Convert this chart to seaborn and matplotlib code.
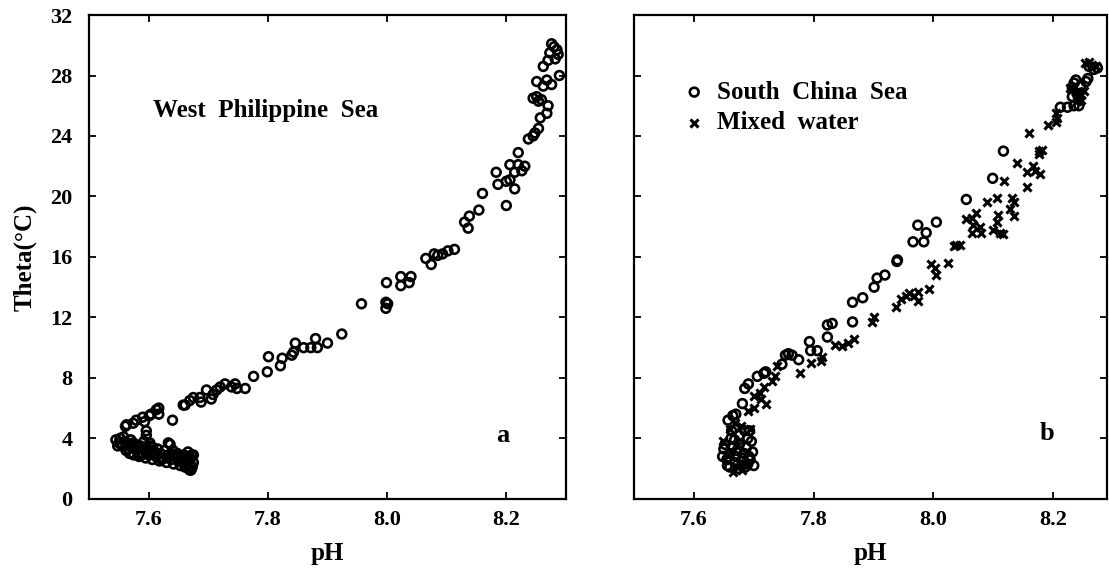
import pandas as pd
from matplotlib import pyplot as plt
import seaborn as sns
import numpy as np

# ---- panel a : West Philippine Sea ----
ph_wps = [8.276, 8.285, 8.273, 8.282, 8.287, 8.270, 8.280, 8.262, 8.289, 8.251,
          8.268, 8.276, 8.262, 8.245, 8.251, 8.259, 8.254, 8.270, 8.257, 8.268,
          8.254, 8.248, 8.245, 8.237, 8.220, 8.206, 8.220, 8.231, 8.226, 8.214,
          8.206, 8.200, 8.183, 8.186, 8.214, 8.200, 8.160, 8.154, 8.138, 8.130,
          8.136, 8.113, 8.102, 8.093, 8.085, 8.079, 8.065, 8.074, 8.023, 8.040,
          8.037, 8.023, 7.999, 7.998, 8.001, 7.998, 7.957, 7.924, 7.900, 7.880,
          7.883, 7.860, 7.872, 7.846, 7.840, 7.843, 7.824, 7.821, 7.801, 7.799,
          7.776, 7.762, 7.745, 7.748, 7.739, 7.728, 7.720, 7.714, 7.708, 7.705,
          7.697, 7.688, 7.686, 7.675, 7.669, 7.661, 7.658, 7.640, 7.617, 7.617,
          7.613, 7.604, 7.601, 7.590, 7.593, 7.579, 7.574, 7.563, 7.561, 7.596,
          7.596, 7.602, 7.633, 7.641, 7.666, 7.675, 7.675, 7.669,
          7.545, 7.550, 7.552, 7.556, 7.560, 7.562, 7.565, 7.568, 7.570, 7.572,
          7.575, 7.578, 7.580, 7.584, 7.586, 7.590, 7.592, 7.595, 7.598, 7.600,
          7.603, 7.606, 7.608, 7.612, 7.615, 7.618, 7.620, 7.624, 7.627, 7.630,
          7.633, 7.636, 7.638, 7.642, 7.645, 7.648, 7.650, 7.653, 7.656, 7.659,
          7.661, 7.663, 7.665, 7.667, 7.668, 7.670, 7.671,
          7.548, 7.558, 7.566, 7.574, 7.582, 7.588, 7.597, 7.607, 7.614, 7.622,
          7.632, 7.640, 7.650, 7.658, 7.664, 7.669, 7.673, 7.672]
theta_wps = [30.1, 29.7, 29.5, 29.1, 29.4, 29.0, 29.9, 28.6, 28.0, 27.6,
             27.7, 27.4, 27.3, 26.5, 26.6, 26.4, 26.3, 26.0, 25.2, 25.5,
             24.5, 24.2, 24.0, 23.8, 22.9, 22.1, 22.1, 22.0, 21.7, 21.6,
             21.1, 21.0, 21.6, 20.8, 20.5, 19.4, 20.2, 19.1, 18.7, 18.3,
             17.9, 16.5, 16.4, 16.2, 16.1, 16.2, 15.9, 15.5, 14.7, 14.7,
             14.3, 14.1, 14.3, 13.0, 12.9, 12.6, 12.9, 10.9, 10.3, 10.6,
             10.0, 10.0, 10.0, 10.3, 9.5, 9.7, 9.3, 8.8, 9.4, 8.4,
             8.1, 7.3, 7.6, 7.3, 7.4, 7.6, 7.4, 7.2, 6.9, 6.6,
             7.2, 6.4, 6.7, 6.7, 6.5, 6.2, 6.2, 5.2, 6.0, 5.6,
             5.9, 5.6, 5.5, 5.4, 5.1, 5.2, 5.0, 4.9, 4.8, 4.5,
             4.2, 3.7, 3.7, 3.2, 3.1, 2.9, 2.4, 1.9,
             3.9, 3.7, 4.0, 3.5, 3.8, 3.2, 3.6, 3.0, 3.9, 3.4,
             2.9, 3.6, 3.2, 2.8, 3.5, 3.0, 3.8, 2.7, 3.3, 2.9,
             3.5, 2.6, 3.1, 2.8, 3.3, 2.5, 3.0, 2.7, 3.2, 2.4,
             2.9, 3.6, 2.6, 2.3, 2.8, 3.0, 2.5, 2.2, 2.7, 2.9,
             2.1, 2.4, 2.6, 2.0, 2.8, 2.3, 1.9,
             3.5, 4.1, 3.3, 3.7, 3.4, 2.9, 3.1, 3.4, 2.9, 2.6,
             2.7, 2.9, 2.8, 2.4, 2.2, 2.6, 2.1, 2.9]

# ---- panel b : South China Sea ----
ph_scs = [8.258, 8.255, 8.238, 8.235, 8.232, 8.246, 8.260, 8.268, 8.274, 8.232,
          8.240, 8.212, 8.224, 8.235, 8.243, 8.117, 8.099, 8.055, 8.005, 7.974,
          7.988, 7.966, 7.984, 7.939, 7.940, 7.919, 7.906, 7.901, 7.882, 7.865,
          7.865, 7.823, 7.831, 7.823, 7.793, 7.795, 7.806, 7.775, 7.753, 7.758,
          7.764, 7.747, 7.717, 7.706, 7.691, 7.685, 7.681, 7.670, 7.657, 7.665,
          7.685, 7.693, 7.663, 7.668, 7.696, 7.650, 7.660, 7.672, 7.684, 7.692,
          7.655, 7.668, 7.680, 7.690, 7.660, 7.675, 7.686, 7.648, 7.720,
          7.652, 7.664, 7.676, 7.688, 7.698, 7.656, 7.670, 7.682, 7.694, 7.700,
          7.662, 7.676, 7.690]
theta_scs = [27.8, 27.6, 27.7, 27.5, 27.2, 27.3, 28.6, 28.4, 28.5, 26.6,
             26.8, 25.9, 25.9, 26.0, 26.0, 23.0, 21.2, 19.8, 18.3, 18.1,
             17.6, 17.0, 17.0, 15.7, 15.8, 14.8, 14.6, 14.0, 13.3, 13.0,
             11.7, 11.5, 11.6, 10.7, 10.4, 9.8, 9.8, 9.2, 9.5, 9.6,
             9.5, 8.9, 8.3, 8.1, 7.6, 7.3, 6.3, 5.6, 5.2, 5.5,
             4.5, 4.5, 4.5, 3.9, 3.8, 3.3, 3.0, 3.2, 3.0, 2.8,
             2.6, 2.4, 2.5, 2.3, 2.1, 2.0, 2.1, 2.8, 8.4,
             3.6, 3.4, 3.6, 3.4, 3.1, 2.2, 2.8, 2.7, 2.6, 2.2,
             4.0, 4.2, 4.0]

# ---- panel b : Mixed water ----
ph_mix = [8.254, 8.260, 8.265, 8.271, 8.229, 8.238, 8.246, 8.252, 8.246, 8.240,
          8.204, 8.207, 8.204, 8.191, 8.160, 8.177, 8.182, 8.176, 8.139, 8.166,
          8.156, 8.178, 8.170, 8.156, 8.118, 8.106, 8.089, 8.131, 8.134, 8.128,
          8.134, 8.108, 8.106, 8.100, 8.111, 8.117, 8.072, 8.064, 8.055, 8.066,
          8.078, 8.080, 8.064, 8.044, 8.038, 8.035, 8.024, 7.996, 8.002, 8.005,
          7.993, 7.974, 7.968, 7.974, 7.960, 7.955, 7.946, 7.938, 7.901, 7.898,
          7.867, 7.858, 7.847, 7.836, 7.814, 7.812, 7.795, 7.778, 7.738, 7.730,
          7.736, 7.717, 7.711, 7.700, 7.720, 7.649, 7.666, 7.668, 7.690, 7.700,
          7.712, 7.670, 7.680, 7.656, 7.672, 7.686, 7.660, 7.678, 7.694]
theta_mix = [28.8, 28.9, 28.7, 28.6, 27.2, 26.9, 26.7, 27.0, 26.4, 26.3,
             25.5, 25.2, 24.9, 24.7, 24.2, 23.0, 23.1, 22.8, 22.2, 22.0,
             21.6, 21.5, 21.7, 20.6, 21.0, 19.9, 19.6, 19.9, 19.6, 19.2,
             18.7, 18.8, 18.3, 17.8, 17.6, 17.5, 18.9, 18.6, 18.5, 18.1,
             18.0, 17.6, 17.6, 16.8, 16.8, 16.7, 15.6, 15.5, 15.3, 14.8,
             13.9, 13.7, 13.4, 13.1, 13.6, 13.4, 13.2, 12.7, 12.0, 11.7,
             10.6, 10.3, 10.1, 10.2, 9.4, 9.1, 9.0, 8.3, 8.8, 7.8,
             8.1, 7.4, 7.0, 6.8, 6.3, 3.8, 1.8, 5.0, 5.8, 6.0,
             6.6, 2.2, 1.9, 2.9, 3.5, 2.4, 4.6, 4.8, 4.6]

x_ticks = [7.6, 7.8, 8.0, 8.2]
y_ticks = [0, 4, 8, 12, 16, 20, 24, 28, 32]

sns.set_theme(style="ticks")
plt.rcParams['font.family'] = ['Liberation Serif', 'DejaVu Serif']
plt.rcParams['font.weight'] = 'bold'
plt.rcParams['axes.labelweight'] = 'bold'
plt.rcParams['text.color'] = 'black'
plt.rcParams['axes.labelcolor'] = 'black'
plt.rcParams['xtick.color'] = 'black'
plt.rcParams['ytick.color'] = 'black'

fig = plt.figure(figsize=(11.09, 5.78), dpi=100)
ax_a = fig.add_axes([0.0803, 0.137, 0.430, 0.837])
ax_b = fig.add_axes([0.5717, 0.137, 0.4265, 0.837])

circle_kws = dict(marker='o', s=40, facecolor='none', edgecolor='black', linewidth=1.9)

sns.scatterplot(x=ph_wps, y=theta_wps, ax=ax_a, **circle_kws)
sns.scatterplot(x=ph_scs, y=theta_scs, ax=ax_b, label='South  China  Sea', **circle_kws)
sns.scatterplot(x=ph_mix, y=theta_mix, ax=ax_b, label='Mixed  water',
                marker='x', s=34, color='black', linewidth=2.2)

for ax in (ax_a, ax_b):
    ax.set_xlim(7.5, 8.3)
    ax.set_ylim(0, 32)
    ax.set_xticks(x_ticks)
    ax.set_xticklabels(['%.1f' % v for v in x_ticks])
    ax.set_yticks(y_ticks)
    ax.tick_params(direction='in', top=True, right=True, length=5, width=1.3,
                   labelsize=16, pad=8, colors='black')
    for sp in ax.spines.values():
        sp.set_linewidth(1.6)
        sp.set_color('black')
    ax.set_xlabel('pH', fontsize=18, fontweight='bold', labelpad=9, color='black')

ax_a.tick_params(axis='y', pad=12)
ax_a.set_ylabel('Theta(\u00b0C)', fontsize=18, fontweight='bold', labelpad=10, color='black')
ax_b.set_xlim(7.5, 8.29)
ax_b.set_ylabel('')
ax_b.tick_params(labelleft=False)

ax_a.text(7.797, 25.7, 'West  Philippine  Sea', fontsize=18, fontweight='bold',
          ha='center', va='center', color='black')
ax_a.text(8.194, 4.2, 'a', fontsize=19, fontweight='bold', ha='center', va='center')
ax_b.text(8.19, 4.3, 'b', fontsize=19, fontweight='bold', ha='center', va='center')

ax_b.legend(loc='upper left', bbox_to_anchor=(0.085, 0.885), frameon=False,
            prop={'family': 'Liberation Serif', 'weight': 'bold', 'size': 18},
            handlelength=0.8, handletextpad=0.5, labelspacing=0.3, borderaxespad=0)

plt.savefig('out.png', dpi=100)
